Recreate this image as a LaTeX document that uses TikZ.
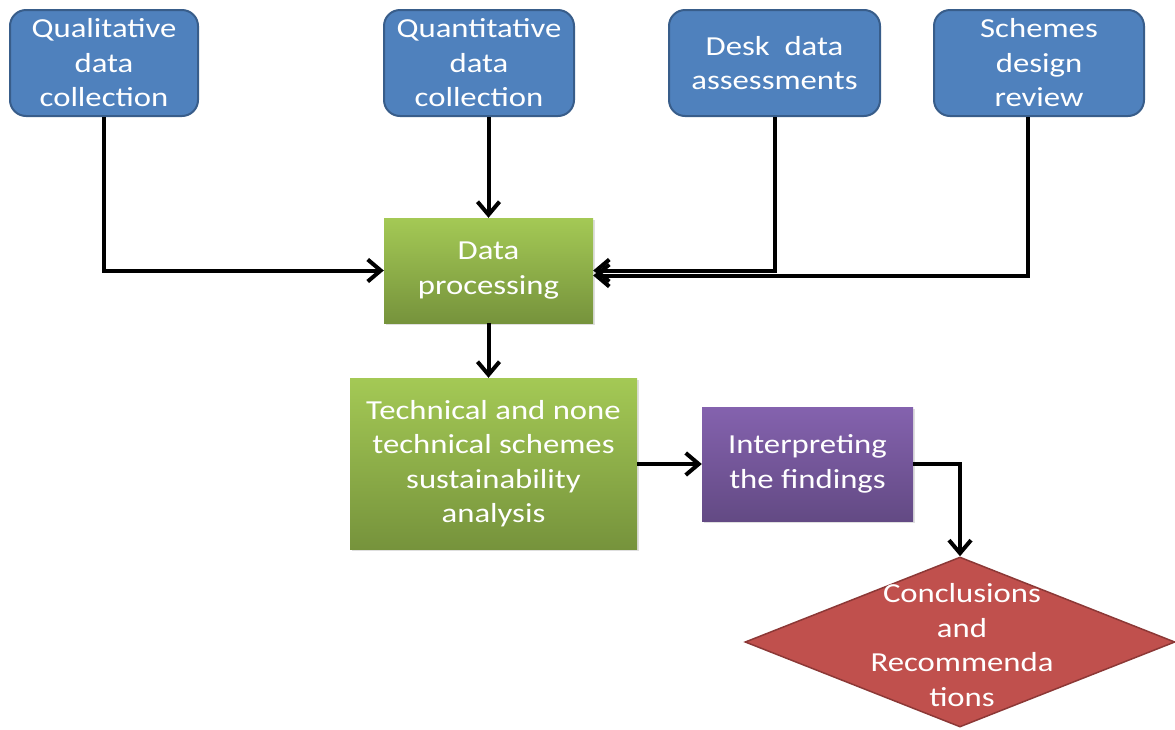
\documentclass[tikz,border=0pt]{standalone}
\usepackage{fontspec}
\setmainfont{Carlito}[FakeStretch=1.19]
\usetikzlibrary{arrows.meta,shapes.geometric,shadows,calc}
\definecolor{boxblue}{HTML}{4F81BD}
\definecolor{boxblueline}{HTML}{385D8A}
\definecolor{greentop}{HTML}{A4C955}
\definecolor{greenbot}{HTML}{76933C}
\definecolor{purptop}{HTML}{8462AE}
\definecolor{purpbot}{HTML}{634A84}
\definecolor{diamred}{HTML}{C0504D}
\definecolor{diamline}{HTML}{8C3836}
\tikzset{
  lbl/.style={font=\fontsize{27.5}{34.5}\selectfont, text=white, align=center, inner sep=0pt},
  source/.style={lbl, draw=boxblueline, line width=2pt, fill=boxblue, rounded corners=16pt},
  greenbox/.style={lbl, top color=greentop, bottom color=greenbot, draw=none,
    drop shadow={opacity=0.25, shadow xshift=1.5pt, shadow yshift=-2pt}},
  purplebox/.style={lbl, top color=purptop, bottom color=purpbot, draw=none,
    drop shadow={opacity=0.25, shadow xshift=1.5pt, shadow yshift=-2pt}},
  flow/.style={line width=4pt, -{Straight Barb[length=13pt,width=22pt]}},
}
\begin{document}
\begin{tikzpicture}[x=1pt,y=-1pt]
\useasboundingbox (0,0) rectangle (1175,729);

% data sources
\node[source, minimum width=188, minimum height=106] (qual) at (104,63)
  {Qualitative\\ data\\ collection};
\node[source, minimum width=190, minimum height=106] (quant) at (479,63)
  {Quantitative\\ data\\ collection};
\node[source, minimum width=211, minimum height=106] (desk) at (774.5,63)
  {Desk\ \ data\\ assessments};
\node[source, minimum width=210, minimum height=106] (scheme) at (1039,63)
  {Schemes\\ design\\ review};

% processing and analysis
\node[greenbox, minimum width=209, minimum height=105] (dp) at (488.5,270.5)
  {Data\\ processing};
\node[greenbox, minimum width=287, minimum height=171] (tech) at (493.5,463.5)
  {Technical and none\\ technical schemes\\ sustainability\\ analysis};
\node[purplebox, minimum width=211, minimum height=114] (interp) at (807.5,464)
  {Interpreting\\ the findings};

% final decision shape
\node[diamond, draw=diamline, line width=1.5pt, fill=diamred, inner sep=0pt,
  minimum width=430, minimum height=170] (conc) at (960,642) {};
\node[lbl] (conctext) at (962,645) {Conclusions\\ and\\ Recommenda\\ tions};

% connectors
\coordinate (qdrop) at (dp.north |- quant.south);
\coordinate (sdrop) at ([xshift=-11pt]scheme.south);
\draw[flow] (qual.south) |- (dp.west);
\draw[flow] (qdrop) -- (dp.north);
\draw[flow] (desk.south) |- (dp.east);
\draw[flow] (sdrop) |- ([yshift=-5pt]dp.east);
\draw[flow] (dp.south) -- (dp.south |- tech.north);
\draw[flow] (tech.east |- interp.west) -- (interp.west);
\draw[flow] (interp.east) -| (conc.north);
\end{tikzpicture}
\end{document}
